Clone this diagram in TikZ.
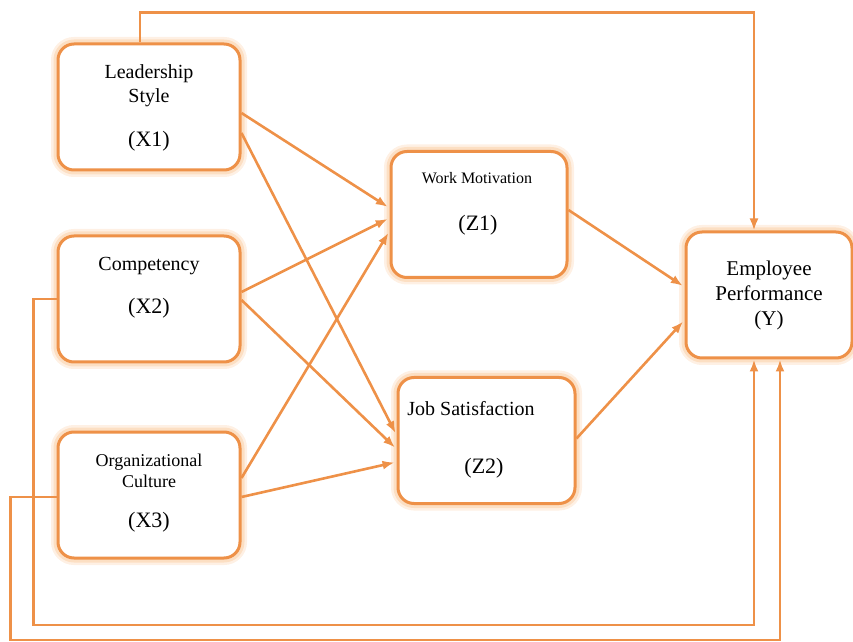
\documentclass[tikz,border=0pt]{standalone}
\usepackage{fontspec}
\setmainfont{Liberation Serif}
\usetikzlibrary{arrows.meta,positioning,calc}

\definecolor{boxline}{RGB}{238,145,72}
\definecolor{boxglow}{RGB}{250,196,146}

\tikzset{
  varbox/.style={draw=boxline, line width=1.5pt, fill=white, rounded corners=8pt,
    minimum height=63pt, inner sep=0pt,
    preaction={draw=boxglow, line width=7pt, opacity=0.25, rounded corners=8pt},
    preaction={draw=boxglow, line width=4.5pt, opacity=0.4, rounded corners=8pt}},
  link/.style={draw=boxline, line width=1.3pt, -{Latex[length=6pt,width=4.5pt]}},
  lbl/.style={align=center, inner sep=0pt, font=\fontsize{10}{12}\selectfont},
  code/.style={inner sep=0pt, font=\fontsize{11}{13}\selectfont}
}

\begin{document}
\begin{tikzpicture}[x=0.5pt,y=-0.5pt]
\useasboundingbox (0,0) rectangle (853,642);

% boxes
\foreach \n/\cx/\cy/\w in {x1/149/107/91pt,x2/149/299/91pt,x3/149/495/91pt,
  z1/479/214.5/88pt,z2/486.5/440.5/88.5pt,y/769/295/83pt}
  \node [varbox, minimum width=\w] (\n) at (\cx,\cy) {};

% texts
\node [lbl] (x1t) at (149,86) {Leadership\\Style};
\node [code] (x1c) at (149,141) {(X1)};
\node [lbl] (x2t) at (149,266) {Competency};
\node [code] (x2c) at (149,308) {(X2)};
\node [lbl, font=\fontsize{9}{10.5}\selectfont] (x3t) at (149,471) {Organizational\\Culture};
\node [code] (x3c) at (149,522) {(X3)};
\node [lbl, font=\fontsize{8}{10}\selectfont] (z1t) at (477,178) {Work Motivation};
\node [code] (z1c) at (478,225) {(Z1)};
\node [lbl] (z2t) at (471,409) {Job Satisfaction};
\node [code] (z2c) at (484,468) {(Z2)};
\node [lbl, font=\fontsize{10.5}{12.5}\selectfont] (yt) at (769,295) {Employee\\Performance\\(Y)};

% paths to the mediators and to Y
\foreach \a/\sa/\b/\sb in {x1/-3pt/z1/3.25pt,x1/-13pt/z2/2.75pt,x2/3.5pt/z1/-1.75pt,
  x2/-0.5pt/z2/-4.25pt,x3/8.5pt/z1/-8.25pt,x3/-1pt/z2/-10.75pt,z1/2.25pt/y/4pt,z2/1pt/y/-12.5pt}
  \draw [link, shorten >=1pt] ([yshift=\sa]\a.east) -- ([yshift=\sb]\b.west);

% direct paths
\draw [link] ([xshift=-4.5pt]x1.north) -- ++(0,-30) -| ([xshift=-7.5pt]y.north);
\draw [link] (x2.west) -- ++(-23,0) -- ++(0,326) -| ([xshift=-7.5pt]y.south);
\draw [link] ([yshift=-1pt]x3.west) -- ++(-46,0) -- ++(0,143) -| ([xshift=5.5pt]y.south);

\end{tikzpicture}
\end{document}
